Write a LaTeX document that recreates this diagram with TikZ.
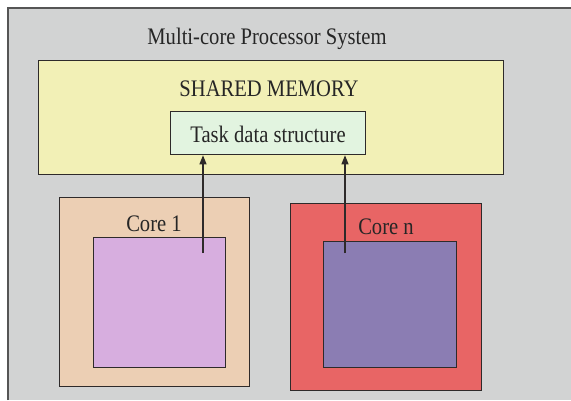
\documentclass[tikz,border=0pt]{standalone}
\usepackage{fontspec}
\setmainfont{Liberation Serif}
\usetikzlibrary{arrows.meta}
\definecolor{panelgray}{HTML}{D2D3D3}
\definecolor{framegray}{HTML}{555555}
\definecolor{memyellow}{HTML}{F2F0B6}
\definecolor{taskgreen}{HTML}{E2F4E0}
\definecolor{peach}{HTML}{ECCFB4}
\definecolor{lilac}{HTML}{D7AEDF}
\definecolor{coral}{HTML}{E86565}
\definecolor{slateviolet}{HTML}{8B7DB3}
\definecolor{edge}{HTML}{2E2A2A}
% slightly tall lettering
\newcommand{\tallText}[1]{\scalebox{1}[1.15]{#1}}
\begin{document}
\begin{tikzpicture}[x=1pt,y=-1pt,
  box/.style={draw=edge, line width=1.3pt, inner sep=0pt, anchor=north west},
  label/.style={inner sep=0pt, anchor=base, font=\fontsize{20.6}{24}\selectfont, text=black!85},
  link/.style={draw=edge, line width=1.2pt, -{Triangle[width=7pt,length=9pt]}}]
\useasboundingbox (0,0) rectangle (571,400);
\fill[white] (0,0) rectangle (571,400);
% grey panel with its frame
\fill[panelgray] (8,8) rectangle (571,400);
\draw[framegray, line width=1.2pt] (8,400) -- (8,8) -- (571,8);

\node[label] (title) at (267,44) {\tallText{Multi-core Processor System}};

% shared memory
\node[box, fill=memyellow, minimum width=465pt, minimum height=114pt] (mem) at (38,60) {};
\node[label] (memlabel) at (269,96) {\tallText{SHARED MEMORY}};
\node[box, fill=taskgreen, minimum width=195pt, minimum height=43pt] (task) at (170,111) {};
\node[label] (tasklabel) at (268,142) {\tallText{Task data structure}};

% core 1
\node[box, fill=peach, minimum width=190pt, minimum height=189pt] (core1) at (59,197) {};
\node[label] (core1label) at (154,231) {\tallText{Core 1}};
\node[box, fill=lilac, minimum width=132pt, minimum height=130pt] (core1in) at (93,237) {};

% core n
\node[box, fill=coral, minimum width=191pt, minimum height=187pt] (coren) at (290,203) {};
\node[label] (corenlabel) at (386,234) {\tallText{Core n}};
\node[box, fill=slateviolet, minimum width=133pt, minimum height=126pt] (corenin) at (323,241) {};

% accesses to the shared task structure
\coordinate (s1) at (203,253);
\coordinate (s2) at (345,253);
\draw[link] (s1) -- (s1 |- task.south);
\draw[link] (s2) -- (s2 |- task.south);
\end{tikzpicture}
\end{document}
